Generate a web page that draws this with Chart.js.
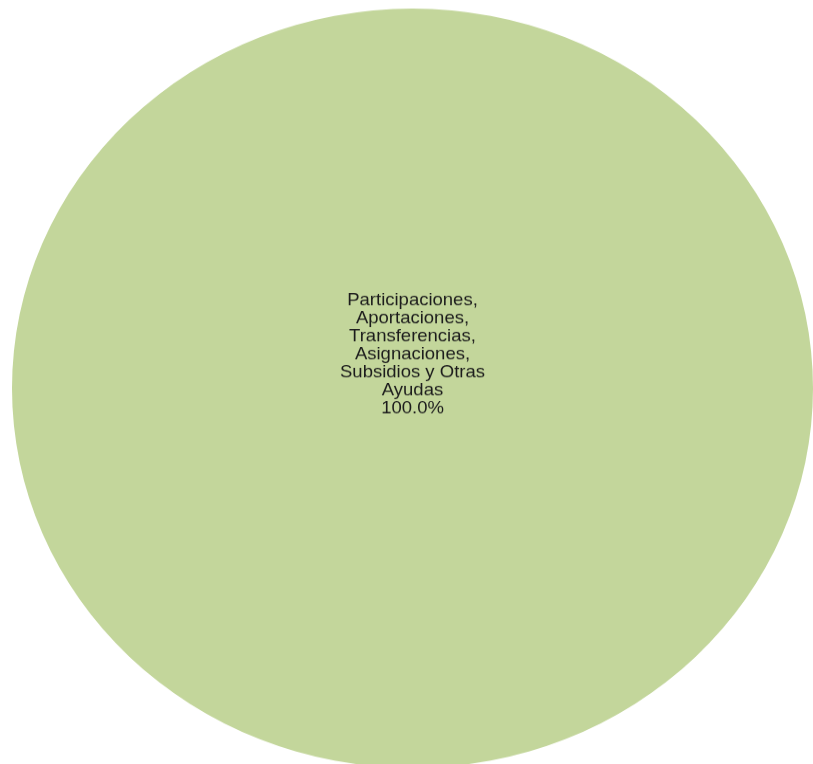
<!DOCTYPE html>
<html>
<head>
<meta charset="utf-8">
<script src="https://cdn.jsdelivr.net/npm/chart.js@4/dist/chart.umd.min.js"></script>
<style>
  html, body { margin: 0; padding: 0; background: #fff; overflow: hidden; }
  #wrap { width: 813px; height: 813px; transform: scaleY(0.948); transform-origin: 0 0; }
</style>
</head>
<body>
<div id="wrap"><canvas id="pieChart" width="813" height="813"></canvas></div>
<script>
const categories = ['Participaciones, Aportaciones, Transferencias, Asignaciones, Subsidios y Otras Ayudas'];
const labelLines = [['Participaciones,', 'Aportaciones,', 'Transferencias,', 'Asignaciones,', 'Subsidios y Otras', 'Ayudas']];
const values = [100.0];
const sliceColors = ['#c3d69b'];

// draws the category name and share inside each slice
const sliceLabels = {
  id: 'sliceLabels',
  afterDatasetsDraw(chart) {
    const ctx = chart.ctx;
    const meta = chart.getDatasetMeta(0);
    const total = values.reduce((a, b) => a + b, 0);
    meta.data.forEach((arc, i) => {
      const lines = labelLines[i].concat([(values[i] / total * 100).toFixed(1) + '%']);
      const lineH = 19;
      const { x, y } = arc.getProps(['x', 'y'], true);
      const top = y - 36 - (lines.length - 1) * lineH / 2;
      ctx.save();
      ctx.font = '18.5px "Liberation Sans", Arial, sans-serif';
      ctx.fillStyle = '#1c1c1c';
      ctx.textAlign = 'center';
      ctx.textBaseline = 'middle';
      lines.forEach((t, k) => ctx.fillText(t, x, top + k * lineH));
      ctx.restore();
    });
  }
};

new Chart(document.getElementById('pieChart'), {
  type: 'pie',
  data: {
    labels: categories,
    datasets: [{
      data: values,
      backgroundColor: sliceColors,
      borderWidth: 0
    }]
  },
  options: {
    responsive: false,
    animation: false,
    layout: { padding: { left: 12, right: 0, top: 9, bottom: 3 } },
    plugins: {
      legend: { display: false },
      tooltip: { enabled: false }
    }
  },
  plugins: [sliceLabels]
});
</script>
</body>
</html>
